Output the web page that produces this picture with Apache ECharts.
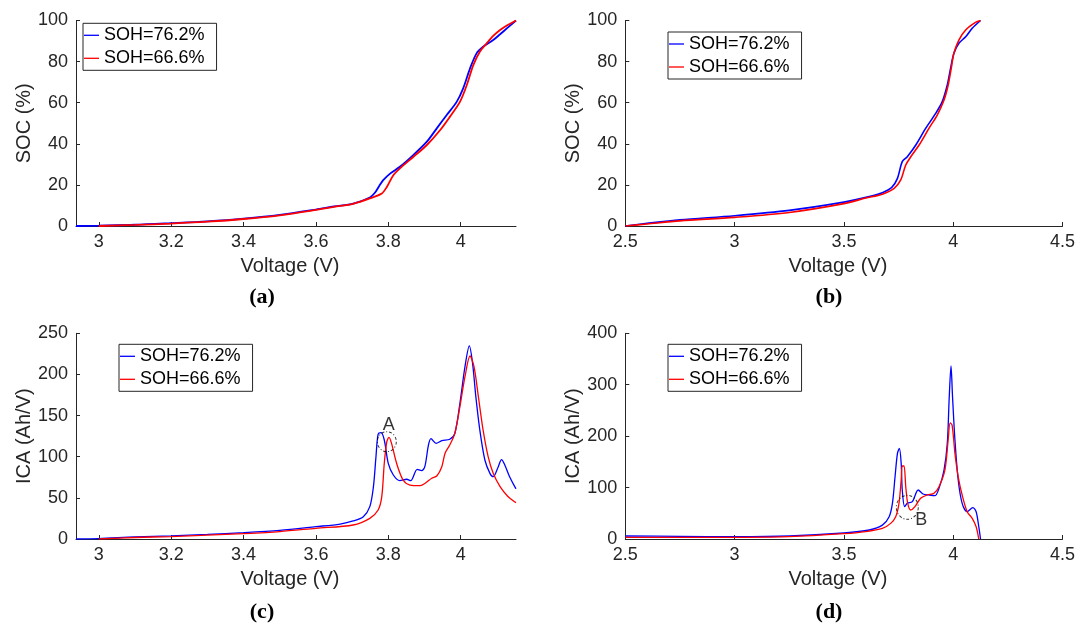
<!DOCTYPE html>
<html><head><meta charset="utf-8">
<script src="https://cdn.jsdelivr.net/npm/echarts@6/dist/echarts.min.js"></script>
<style>html,body{margin:0;padding:0;background:#fff}#c{width:1078px;height:623px}</style>
</head><body><div id="c"></div>
<script>
// ---- labels ----
const NAME_HI = 'SOH=76.2%';
const NAME_LO = 'SOH=66.6%';
const xTicksAC = [3, 3.2, 3.4, 3.6, 3.8, 4];
const xTicksBD = [2.5, 3, 3.5, 4, 4.5];
const panelLabels = ['(a)', '(b)', '(c)', '(d)'];

// ---- (a) SOC vs voltage ----
const socA_hi = [[2.937,0],[3.0,0.2],[3.1,0.6],[3.2,1.4],[3.3,2.3],[3.4,3.6],[3.5,5.4],[3.6,8.0],[3.65,9.5],[3.703,10.9],[3.749,13.9],[3.763,16.2],[3.775,19.5],[3.786,22.3],[3.805,25.5],[3.832,28.8],[3.869,34.5],[3.906,40.9],[3.934,47.5],[3.961,53.9],[3.989,60.4],[4.007,67],[4.026,76.7],[4.044,84],[4.062,87.2],[4.09,90.5],[4.109,93.3],[4.13,96.5],[4.153,100]];
const socA_lo = [[3.0,0],[3.1,0.5],[3.2,1.2],[3.3,2.1],[3.4,3.4],[3.5,5.2],[3.6,7.8],[3.65,9.3],[3.703,10.8],[3.749,13.4],[3.782,15.8],[3.796,19],[3.814,24.7],[3.837,28.8],[3.869,33.6],[3.906,39.3],[3.943,46.6],[3.970,53.1],[3.998,60.4],[4.017,68.6],[4.035,78.3],[4.053,84.8],[4.072,88.9],[4.09,92.5],[4.109,95.4],[4.13,97.8],[4.153,100]];

// ---- (b) SOC vs voltage ----
const socB_hi = [[2.5,0],[2.6,1.3],[2.75,3.0],[3.0,5.0],[3.25,7.6],[3.5,11.6],[3.616,14.3],[3.676,16.2],[3.719,18.8],[3.745,23.2],[3.767,31.3],[3.79,33.7],[3.829,39.4],[3.874,47.5],[3.92,54.8],[3.95,60.5],[3.973,68.6],[3.988,76.7],[4.003,84],[4.026,88.9],[4.057,92.1],[4.087,96.2],[4.125,100]];
const socB_lo = [[2.5,0],[2.6,1.0],[2.75,2.5],[3.0,4.2],[3.25,6.6],[3.5,10.9],[3.6,13.6],[3.676,15.5],[3.73,18.3],[3.76,22.4],[3.783,29.7],[3.806,33.7],[3.844,39.4],[3.889,47.5],[3.927,54],[3.958,61.3],[3.977,68.6],[3.991,76.7],[4.003,84],[4.026,90.5],[4.057,95.4],[4.102,99.1],[4.125,100]];

// ---- (c) ICA vs voltage ----
const icaC_hi = [[2.937,0],[3.0,0.5],[3.1,2.5],[3.2,3.8],[3.3,5.6],[3.4,7.7],[3.5,10.5],[3.6,15],[3.667,18.2],[3.703,21.9],[3.731,27.1],[3.749,39.3],[3.759,63.6],[3.766,100],[3.772,127.6],[3.78,129.2],[3.789,120.3],[3.8,92],[3.814,77.8],[3.832,70.9],[3.851,72.6],[3.862,70.9],[3.88,84.7],[3.892,83],[3.901,87.9],[3.911,114],[3.918,121.9],[3.932,116.3],[3.948,119.5],[3.97,121.2],[3.984,128.4],[3.998,165],[4.012,209.4],[4.024,234.6],[4.033,213.5],[4.042,173],[4.053,132.5],[4.067,96],[4.081,79.8],[4.09,75.7],[4.104,87.9],[4.113,96.5],[4.122,90],[4.135,76],[4.153,61]];
const icaC_lo = [[3.0,0],[3.1,1.8],[3.2,3],[3.3,4.6],[3.4,6.5],[3.5,9],[3.6,13],[3.703,17],[3.749,25.1],[3.772,35.2],[3.782,51.4],[3.789,92],[3.796,118.3],[3.802,123.6],[3.809,116.3],[3.823,92],[3.841,71.7],[3.86,65.6],[3.888,64.8],[3.904,68.4],[3.92,73.8],[3.934,76.6],[3.948,87.9],[3.957,104.2],[3.97,114.2],[3.984,128.4],[3.998,160.8],[4.012,197.3],[4.026,222.4],[4.037,209.4],[4.049,173],[4.062,132.5],[4.076,100],[4.09,79.8],[4.109,63.6],[4.13,52],[4.153,44]];

// ---- (d) ICA vs voltage ----
const icaD_hi = [[2.5,5.8],[2.75,5.2],[3.0,4.5],[3.25,5.8],[3.5,11.7],[3.616,17.5],[3.676,27],[3.707,43.4],[3.722,69.4],[3.734,121],[3.745,166.6],[3.754,176.3],[3.762,147],[3.767,95.3],[3.778,62.9],[3.79,69.4],[3.813,72.6],[3.84,95.3],[3.862,87.5],[3.889,85.6],[3.917,84.3],[3.935,98.5],[3.958,134],[3.973,186],[3.982,276.7],[3.99,336.4],[3.997,276.7],[4.008,192.5],[4.023,114.7],[4.041,69.4],[4.064,53.1],[4.09,60.9],[4.105,53.1],[4.117,23.9],[4.125,0]];
const icaD_lo = [[2.5,3.2],[2.75,3],[3.0,3.2],[3.25,4.5],[3.5,10.4],[3.6,14.5],[3.676,20.7],[3.714,30.4],[3.737,43.4],[3.752,69.4],[3.762,114.7],[3.767,142],[3.775,142],[3.783,101.7],[3.792,69.4],[3.806,56.4],[3.825,62.9],[3.851,79.1],[3.881,85.6],[3.912,88.8],[3.935,101.7],[3.962,134],[3.977,192.5],[3.986,226],[3.995,221.6],[4.008,166.6],[4.023,121],[4.041,85.6],[4.064,53.1],[4.087,40.2],[4.105,23.9],[4.117,0]];

// ---- annotations (data coordinates) ----
const annA = [3.796, 118.3];
const annB = [3.790, 61.6];

const FF = '"Liberation Sans", Arial, Helvetica, sans-serif';
const AX = '#262626';
const BLUE = '#0000ff', RED = '#ff0000';

const grids = [
  {left: 76, top: 20.5, width: 440, height: 205.5},
  {left: 625.3, top: 20.5, width: 438.6, height: 205.5},
  {left: 76, top: 333.3, width: 440, height: 205.7},
  {left: 625.3, top: 333.3, width: 438.6, height: 205.7}
];

function xAx(idx, min, max, ticks) {
  return {
    type: 'value', gridIndex: idx, min: min, max: max,
    name: 'Voltage (V)', nameLocation: 'middle', nameGap: 30,
    nameTextStyle: {fontSize: 20, color: AX, fontFamily: FF, padding: [0, 12, 0, 0]},
    axisLine: {show: true, onZero: false, lineStyle: {color: AX, width: 1}},
    axisTick: {show: true, inside: true, length: 4, customValues: ticks, lineStyle: {color: AX}},
    axisLabel: {customValues: ticks, margin: 7, fontSize: 18, color: AX, fontFamily: FF,
      formatter: v => String(+(+v).toFixed(1))},
    splitLine: {show: false}
  };
}
function yAx(idx, max, interval, name) {
  return {
    type: 'value', gridIndex: idx, min: 0, max: max, interval: interval,
    name: name, nameLocation: 'middle', nameGap: 42, nameRotate: 90,
    nameTextStyle: {fontSize: 20, color: AX, fontFamily: FF},
    axisLine: {show: true, lineStyle: {color: AX, width: 1}},
    axisTick: {show: true, inside: true, length: 4, lineStyle: {color: AX}},
    axisLabel: {margin: 8, fontSize: 18, color: AX, fontFamily: FF},
    splitLine: {show: false}
  };
}
function line(name, color, data, idx, width) {
  return {
    type: 'line', name: name, xAxisIndex: idx, yAxisIndex: idx, data: data,
    symbol: 'none', showSymbol: false, smooth: 0.3,
    lineStyle: {color: color, width: width}, itemStyle: {color: color},
    animation: false
  };
}
function ann(idx, pt, txt, size, off) {
  return {
    type: 'scatter', name: 'ann' + txt, xAxisIndex: idx, yAxisIndex: idx,
    data: [pt], symbol: 'circle', symbolSize: size, silent: true, z: 5,
    itemStyle: {color: 'rgba(0,0,0,0)', borderColor: '#000', borderWidth: 1, borderType: [3, 2, 1, 2]},
    label: {show: true, formatter: txt, position: 'inside', offset: off, fontSize: 18, color: '#000', fontFamily: FF},
    animation: false
  };
}
function legend(left, top) {
  return {
    left: left, top: top, orient: 'vertical', data: [NAME_HI, NAME_LO],
    icon: 'rect', itemWidth: 15, itemHeight: 1.3, itemGap: 3, padding: [2, 12, 2, 1],
    borderColor: AX, borderWidth: 1, backgroundColor: '#fff', selectedMode: false,
    textStyle: {fontSize: 18, color: '#000', fontFamily: FF, lineHeight: 20}
  };
}

const labelPos = [[262, 297], [829, 297], [262, 612], [829, 612]];

const chart = echarts.init(document.getElementById('c'), null, {renderer: 'canvas'});
chart.setOption({
  backgroundColor: '#fff',
  animation: false,
  grid: grids,
  xAxis: [xAx(0, 2.937, 4.153, xTicksAC), xAx(1, 2.5, 4.5, xTicksBD), xAx(2, 2.937, 4.153, xTicksAC), xAx(3, 2.5, 4.5, xTicksBD)],
  yAxis: [yAx(0, 100, 20, 'SOC (%)'), yAx(1, 100, 20, 'SOC (%)'), yAx(2, 250, 50, 'ICA (Ah/V)'), yAx(3, 400, 100, 'ICA (Ah/V)')],
  legend: [legend(83, 23.3), legend(668, 32), legend(119, 344.3), legend(668, 344.3)],
  series: [
    line(NAME_HI, BLUE, socA_hi, 0, 1.8), line(NAME_LO, RED, socA_lo, 0, 1.8),
    line(NAME_HI, BLUE, socB_hi, 1, 1.6), line(NAME_LO, RED, socB_lo, 1, 1.6),
    line(NAME_HI, BLUE, icaC_hi, 2, 1.3), line(NAME_LO, RED, icaC_lo, 2, 1.3),
    line(NAME_HI, BLUE, icaD_hi, 3, 1.3), line(NAME_LO, RED, icaD_lo, 3, 1.3),
    ann(2, annA, 'A', [19, 20], [2, -17]),
    ann(3, annB, 'B', [22, 24], [14, 13])
  ],
  graphic: panelLabels.map((t, i) => ({
    type: 'text', x: labelPos[i][0], y: labelPos[i][1], silent: true,
    style: {text: t, fill: '#000', font: 'bold 22px "Liberation Serif", "DejaVu Serif", serif', align: 'center', verticalAlign: 'middle'}
  }))
});
</script></body></html>
